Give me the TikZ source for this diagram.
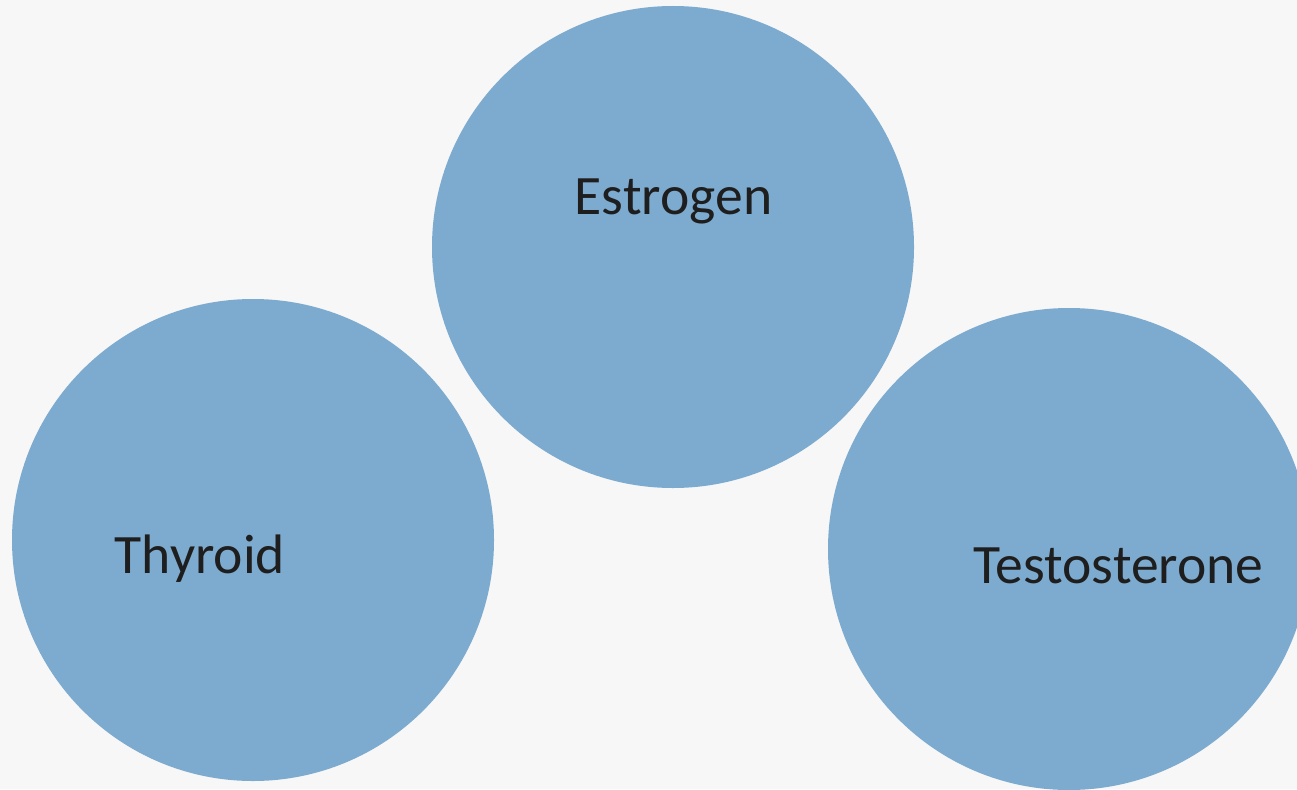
\documentclass[tikz,border=0pt]{standalone}
\usepackage{fontspec}
\setmainfont{Carlito}
\definecolor{paper}{HTML}{F7F7F7}
\definecolor{disc}{HTML}{7DABCF}
\definecolor{ink}{HTML}{1E1E1E}
\begin{document}
\begin{tikzpicture}[x=1pt,y=-1pt,
  hormone/.style={circle,fill=disc,draw=none,minimum size=482pt,inner sep=0pt},
  caption/.style={anchor=base,text=ink,font=\fontsize{55.6}{62}\selectfont,inner sep=0pt}]
  \fill[paper] (0,0) rectangle (1297,789);
  \useasboundingbox (0,0) rectangle (1297,789);
  \begin{scope}
    \clip (0,0) rectangle (1297,789);
    \node[hormone] (estrogen) at (673,247) {};
    \node[hormone] (thyroid) at (253,540) {};
    \node[hormone] (testosterone) at (1069,549) {};
  \end{scope}
  \node[caption] (estrogenText) at (673.5,214) {Estrogen};
  \node[caption] (thyroidText) at (200,573) {Thyroid};
  \node[caption] (testosteroneText) at (1118.5,583) {Testosterone};
\end{tikzpicture}
\end{document}
